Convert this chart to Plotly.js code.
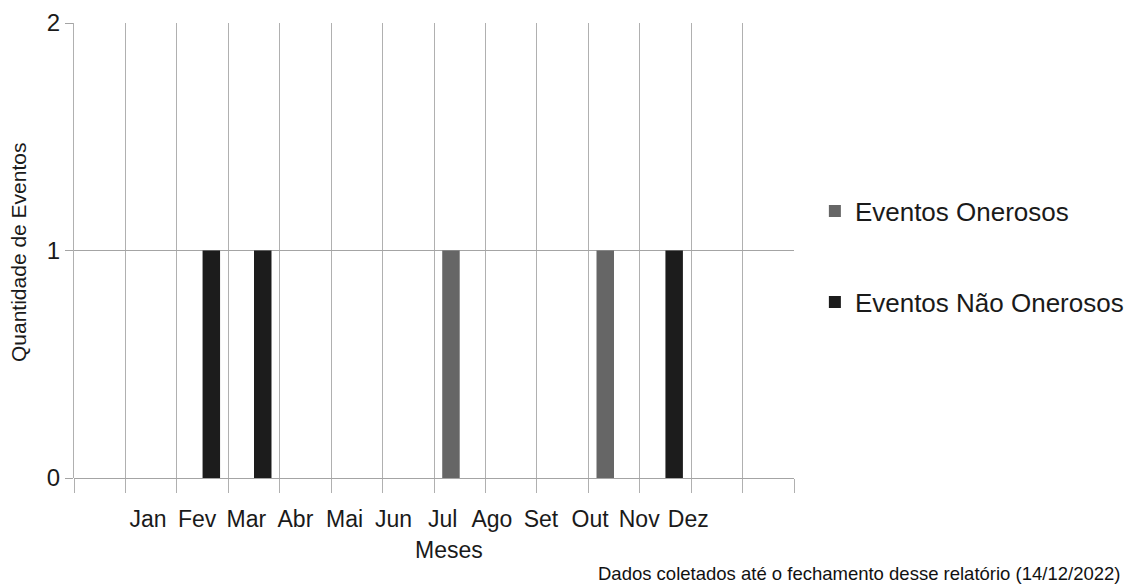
<!DOCTYPE html>
<html>
<head>
<meta charset="utf-8">
<script src="https://cdn.plot.ly/plotly-3.0.1.min.js"></script>
<style>html,body{margin:0;padding:0;background:#fff;}#chart{width:1133px;height:586px;}</style>
</head>
<body>
<div id="chart"></div>
<script>
const months = ["Jan","Fev","Mar","Abr","Mai","Jun","Jul","Ago","Set","Out","Nov","Dez"];
const monthIndex = [1,2,3,4,5,6,7,8,9,10,11,12];
const onerosos = [0,0,0,0,0,0,1,0,0,1,0,0];
const naoOnerosos = [0,1,1,0,0,0,0,0,0,0,1,0];
const seriesNames = ["Eventos Onerosos","Eventos Não Onerosos"];
const footnote = "Dados coletados até o fechamento desse relatório (14/12/2022)";

const FONT = "Liberation Sans, Arial, sans-serif";
const labelPos = monthIndex.map((m,i)=>0.94 + i*0.955);

const traces = [
  {type:"bar", x:monthIndex, y:onerosos, name:seriesNames[0], legendgroup:"a",
   marker:{color:"#666666", line:{width:0}}},
  {type:"bar", x:monthIndex, y:naoOnerosos, name:seriesNames[1], legendgroup:"b",
   marker:{color:"#1c1c1c", line:{width:0}}},
  {type:"scatter", x:labelPos, y:labelPos.map(()=>null), xaxis:"x2", showlegend:false, hoverinfo:"skip"}
];

const layout = {
  width:1133, height:586,
  margin:{l:74, r:339, t:23, b:108, autoexpand:false},
  paper_bgcolor:"#fff", plot_bgcolor:"#fff",
  font:{family:FONT, color:"#1a1a1a"},
  barmode:"group", bargap:0.32, bargroupgap:0,
  showlegend:true,
  legend:{x:1.029, xanchor:"left", y:0.638, yanchor:"top", font:{size:26, family:FONT, color:"#1a1a1a"},
          tracegroupgap:54, bgcolor:"rgba(0,0,0,0)", itemwidth:30},
  xaxis:{range:[-0.5,13.5], tick0:0.5, dtick:1, showticklabels:false,
         showgrid:true, gridcolor:"#b0b0b0", gridwidth:1,
         ticks:"outside", ticklen:14, tickcolor:"#b0b0b0",
         showline:false, zeroline:false, fixedrange:true},
  xaxis2:{overlaying:"x", side:"bottom", range:[-0.5,13.5], tickmode:"array",
          tickvals:labelPos, ticktext:months, showgrid:false, showline:false, zeroline:false,
          ticks:"outside", ticklen:20, tickcolor:"rgba(0,0,0,0)",
          tickfont:{size:23, family:FONT, color:"#1a1a1a"}},
  yaxis:{range:[0,2], tickvals:[0,1,2], ticktext:["0","1","2"],
         showgrid:true, gridcolor:"#a4a4a4", gridwidth:1,
         ticks:"outside", ticklen:8, tickcolor:"#a4a4a4",
         tickfont:{size:24, family:FONT, color:"#1a1a1a"},
         showline:true, linecolor:"#b0b0b0", zeroline:true, zerolinecolor:"#a4a4a4"},
  annotations:[
    {text:"Meses", xref:"paper", yref:"paper", x:(449-74)/720, y:-(550-478)/455, xanchor:"center", yanchor:"middle",
     showarrow:false, font:{size:23, family:FONT, color:"#1a1a1a"}},
    {text:"Quantidade de Eventos", xref:"paper", yref:"paper", x:(18-74)/720, y:(478-252)/455, textangle:-90,
     xanchor:"center", yanchor:"middle", showarrow:false, font:{size:21, family:FONT, color:"#1a1a1a"}},
    {text:footnote, xref:"paper", yref:"paper", x:(1122-74)/720, y:-(586-478)/455, xanchor:"right", yanchor:"bottom",
     showarrow:false, font:{size:18.5, family:FONT, color:"#111"}}
  ]
};

Plotly.newPlot("chart", traces, layout, {staticPlot:true, displayModeBar:false});
</script>
</body>
</html>
